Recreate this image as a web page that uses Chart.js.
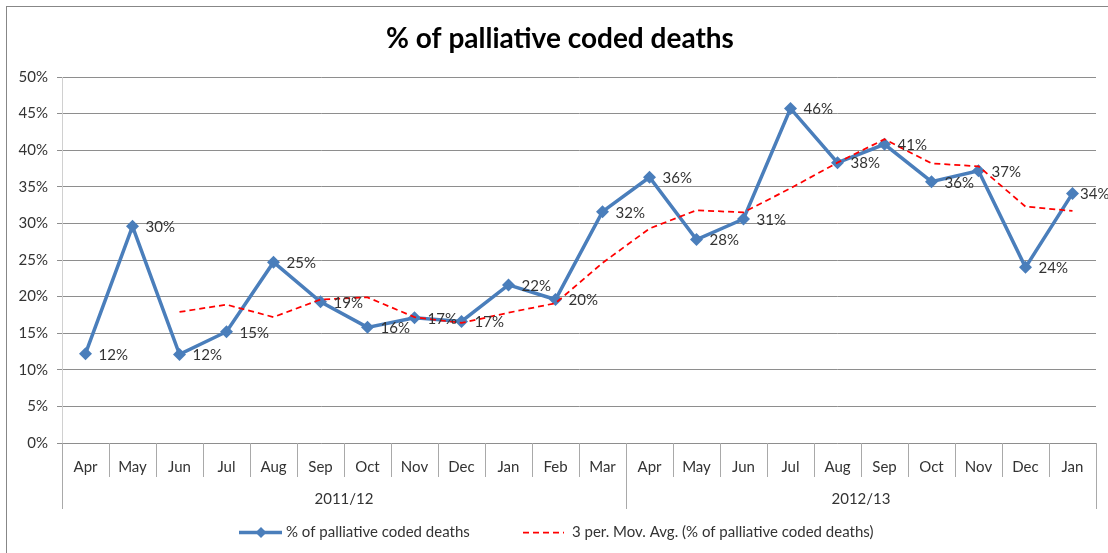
<!DOCTYPE html>
<html>
<head>
<meta charset="utf-8">
<title>% of palliative coded deaths</title>
<script src="https://cdn.jsdelivr.net/npm/chart.js@4.4.1/dist/chart.umd.min.js"></script>
<style>
    body { margin: 0; background: #ffffff; }
    #wrap { width: 1108px; height: 553px; }
</style>
</head>
<body>
<div id="wrap"><canvas id="palliativeChart" width="1108" height="553"></canvas></div>
<script>
// chart data
const chartTitle = '% of palliative coded deaths';
const months = ['Apr', 'May', 'Jun', 'Jul', 'Aug', 'Sep', 'Oct', 'Nov', 'Dec', 'Jan', 'Feb', 'Mar',
                'Apr', 'May', 'Jun', 'Jul', 'Aug', 'Sep', 'Oct', 'Nov', 'Dec', 'Jan'];
const yearGroups = ['2011/12', '2012/13'];
const yearGroupSizes = [12, 10];
const seriesLabel = '% of palliative coded deaths';
const palliativePct = [12.2, 29.6, 12.1, 15.2, 24.7, 19.3, 15.8, 17.1, 16.6, 21.6, 19.6, 31.6,
                       36.3, 27.8, 30.6, 45.7, 38.3, 40.8, 35.7, 37.2, 24.0, 34.1];
const movAvgLabel = '3 per. Mov. Avg. (% of palliative coded deaths)';
const movAvgPct = [null, null, 17.9, 18.9, 17.2, 19.6, 19.9, 17.2, 16.4, 17.8, 19.1, 24.6,
                   29.3, 31.8, 31.5, 34.8, 38.3, 41.5, 38.2, 37.8, 32.3, 31.7];
const yTicks = [0, 5, 10, 15, 20, 25, 30, 35, 40, 45, 50];

const FONT = 'Lato, "Open Sans", sans-serif';
const BLUE = '#4a7ebb';
const RED = '#ff0000';
const TEXT = '#333333';

// draws title, border, two-level category axis, data labels and legend
const excelLook = {
    id: 'excelLook',
    afterDatasetsDraw(chart) {
        const ctx = chart.ctx;
        const meta = chart.getDatasetMeta(0);
        ctx.save();
        ctx.font = '15px ' + FONT;
        ctx.fillStyle = TEXT;
        ctx.textAlign = 'left';
        ctx.textBaseline = 'middle';
        meta.data.forEach((pt, i) => {
            const x = Math.min(pt.x + 13, 1080);
            ctx.fillText(Math.round(palliativePct[i]) + '%', x, pt.y + 1);
        });
        ctx.restore();
    },
    afterDraw(chart) {
        const ctx = chart.ctx;
        const xs = chart.scales.x;
        const area = chart.chartArea;
        const step = xs.getPixelForValue(1) - xs.getPixelForValue(0);
        ctx.save();

        // outer frame
        ctx.strokeStyle = '#878787';
        ctx.lineWidth = 1;
        ctx.strokeRect(6.5, 6.5, 1110, 560);

        // title
        ctx.fillStyle = '#000000';
        ctx.font = 'bold 28px ' + FONT;
        ctx.textAlign = 'center';
        ctx.textBaseline = 'middle';
        ctx.fillText(chartTitle, 560, 39);

        // month row
        ctx.strokeStyle = '#a9a9a9';
        ctx.font = '15px ' + FONT;
        ctx.fillStyle = TEXT;
        months.forEach((m, i) => {
            const cx = xs.getPixelForValue(i);
            ctx.fillText(m, cx, 467);
            if (i > 0) {
                const bx = Math.round(cx - step / 2) + 0.5;
                ctx.beginPath();
                ctx.moveTo(bx, area.bottom);
                ctx.lineTo(bx, 477);
                ctx.stroke();
            }
        });

        // year row
        let start = 0;
        yearGroups.forEach((g, k) => {
            const end = start + yearGroupSizes[k] - 1;
            const left = xs.getPixelForValue(start) - step / 2;
            const right = xs.getPixelForValue(end) + step / 2;
            ctx.fillText(g, (left + right) / 2, 499);
            [left, right].forEach(bx => {
                bx = Math.round(bx) + 0.5;
                ctx.beginPath();
                ctx.moveTo(bx, area.bottom);
                ctx.lineTo(bx, 509);
                ctx.stroke();
            });
            start = end + 1;
        });

        // legend
        const ly = 532.5;
        ctx.strokeStyle = BLUE;
        ctx.lineWidth = 3.5;
        ctx.beginPath();
        ctx.moveTo(239, ly);
        ctx.lineTo(282, ly);
        ctx.stroke();
        ctx.fillStyle = BLUE;
        ctx.beginPath();
        ctx.moveTo(261, ly - 5.5);
        ctx.lineTo(266.5, ly);
        ctx.lineTo(261, ly + 5.5);
        ctx.lineTo(255.5, ly);
        ctx.closePath();
        ctx.fill();

        ctx.strokeStyle = RED;
        ctx.lineWidth = 1.75;
        ctx.setLineDash([6, 4]);
        ctx.beginPath();
        ctx.moveTo(523, ly);
        ctx.lineTo(564, ly);
        ctx.stroke();
        ctx.setLineDash([]);

        ctx.fillStyle = TEXT;
        ctx.textAlign = 'left';
        ctx.fillText(seriesLabel, 286, ly);
        ctx.fillText(movAvgLabel, 572, ly);
        ctx.restore();
    }
};

const chart = new Chart(document.getElementById('palliativeChart'), {
    type: 'line',
    data: {
        labels: months,
        datasets: [
            {
                label: seriesLabel,
                data: palliativePct,
                borderColor: BLUE,
                backgroundColor: BLUE,
                borderWidth: 3.5,
                pointStyle: 'rectRot',
                pointRadius: 6.5,
                pointBorderWidth: 0,
                pointBackgroundColor: BLUE,
                tension: 0,
                order: 1,
            },
            {
                label: movAvgLabel,
                data: movAvgPct,
                borderColor: RED,
                borderWidth: 1.75,
                borderDash: [6, 4],
                pointRadius: 0,
                tension: 0,
                spanGaps: false,
                order: 0,
            },
        ],
    },
    options: {
        responsive: false,
        animation: false,
        layout: {
            padding: { top: 77, right: 12, bottom: 110, left: 0 },
        },
        plugins: {
            legend: { display: false },
            title: { display: false },
            tooltip: { enabled: false },
        },
        scales: {
            x: {
                type: 'category',
                offset: true,
                display: false,
            },
            y: {
                min: 0,
                max: 50,
                afterBuildTicks: (scale) => {
                    scale.ticks = yTicks.map((v) => ({ value: v }));
                },
                afterFit: (scale) => {
                    scale.width = 62;
                },
                ticks: {
                    callback: (v) => v + '%',
                    color: TEXT,
                    font: { family: FONT, size: 15 },
                    padding: 9,
                },
                grid: {
                    color: '#8e8e8e',
                    tickColor: '#8e8e8e',
                    tickLength: 5,
                },
                border: { color: '#d0d0d0', width: 1 },
            },
        },
    },
    plugins: [excelLook],
});
</script>
</body>
</html>
